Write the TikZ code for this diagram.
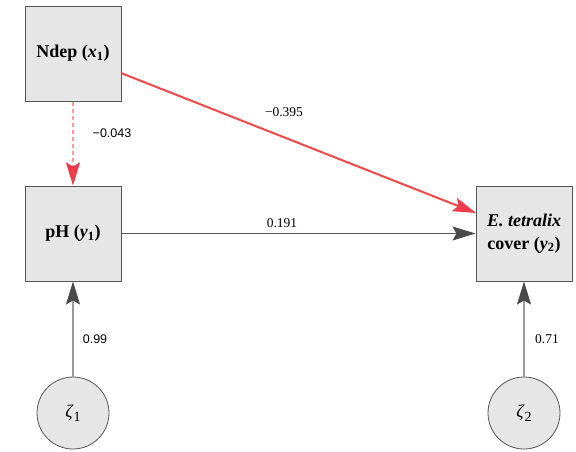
\documentclass[tikz,border=0pt]{standalone}
\usepackage{fontspec}
\setmainfont{Liberation Serif}
\newfontfamily\arialf{Liberation Sans}
\usetikzlibrary{arrows.meta}
\definecolor{boxfill}{HTML}{E6E6E6}
\definecolor{boxline}{HTML}{555555}
\definecolor{redline}{HTML}{F04848}
\definecolor{redhead}{HTML}{F03C4A}
\definecolor{pinkline}{HTML}{F2A0A0}
\definecolor{headgray}{HTML}{4A4A4A}
\definecolor{grayline}{HTML}{9A9A9A}
\newcommand{\zsub}[1]{\raisebox{-3.5pt}{\fontsize{14}{14}\selectfont #1}}
\begin{document}
\begin{tikzpicture}[x=1pt,y=-1pt,
  varbox/.style={draw=boxline,fill=boxfill,line width=1pt,minimum width=96pt,minimum height=95pt,inner sep=0pt,align=center,font=\fontsize{18}{23}\selectfont\bfseries},
  errcirc/.style={draw=boxline,fill=boxfill,line width=0.8pt,circle,minimum size=72pt,inner sep=0pt,font=\fontsize{18}{20}\selectfont},
  serlab/.style={font=\fontsize{13.5}{15}\selectfont,inner sep=1pt},
  sanslab/.style={font=\fontsize{12.5}{15}\selectfont\arialf,inner sep=1pt},
  redpath/.style={draw=redline,line width=2pt,-{Stealth[length=23pt,width=14pt,inset=4pt,color=redhead]}},
  dashpath/.style={draw=pinkline,line width=1.6pt,dash pattern=on 4pt off 3pt,-{Stealth[length=23pt,width=14pt,inset=4pt,color=redhead]}},
  graypath/.style={draw=boxline,line width=1pt,-{Stealth[length=23pt,width=14pt,inset=4pt,color=headgray]}},
  errpath/.style={draw=grayline,line width=1.4pt,-{Stealth[length=23pt,width=14pt,inset=4pt,color=headgray]}}
]
\useasboundingbox (0,0) rectangle (576,451);
\node[varbox] (ndep) at (73,53.5) {Ndep (\textit{x}\textsubscript{1})};
\node[varbox] (ph) at (73,233.5) {pH (\textit{y}\textsubscript{1})};
\node[varbox] (et) at (524,233.5) {\textit{E. tetralix}\\cover (\textit{y}\textsubscript{2})};
\node[errcirc] (z1) at (73,413) {\textit{ζ}\zsub{1}};
\node[errcirc] (z2) at (524,413) {\textit{ζ}\zsub{2}};
\coordinate (ndepout) at (121,73);
\coordinate (etin) at (476,213);
\draw[redpath] (ndepout) -- (etin);
\draw[dashpath] (ndep.south) -- (ph.north);
\draw[graypath] (ph.east) -- (et.west);
\draw[errpath] (z1.north) -- (ph.south);
\draw[errpath] (z2.north) -- (et.south);
\node[serlab] (l1) at (284,112) {−0.395};
\node[serlab] (l2) at (282,223) {0.191};
\node[sanslab] (l3) at (112,133) {−0.043};
\node[sanslab] (l4) at (95,339) {0.99};
\node[serlab] (l5) at (547,339) {0.71};
\end{tikzpicture}
\end{document}
